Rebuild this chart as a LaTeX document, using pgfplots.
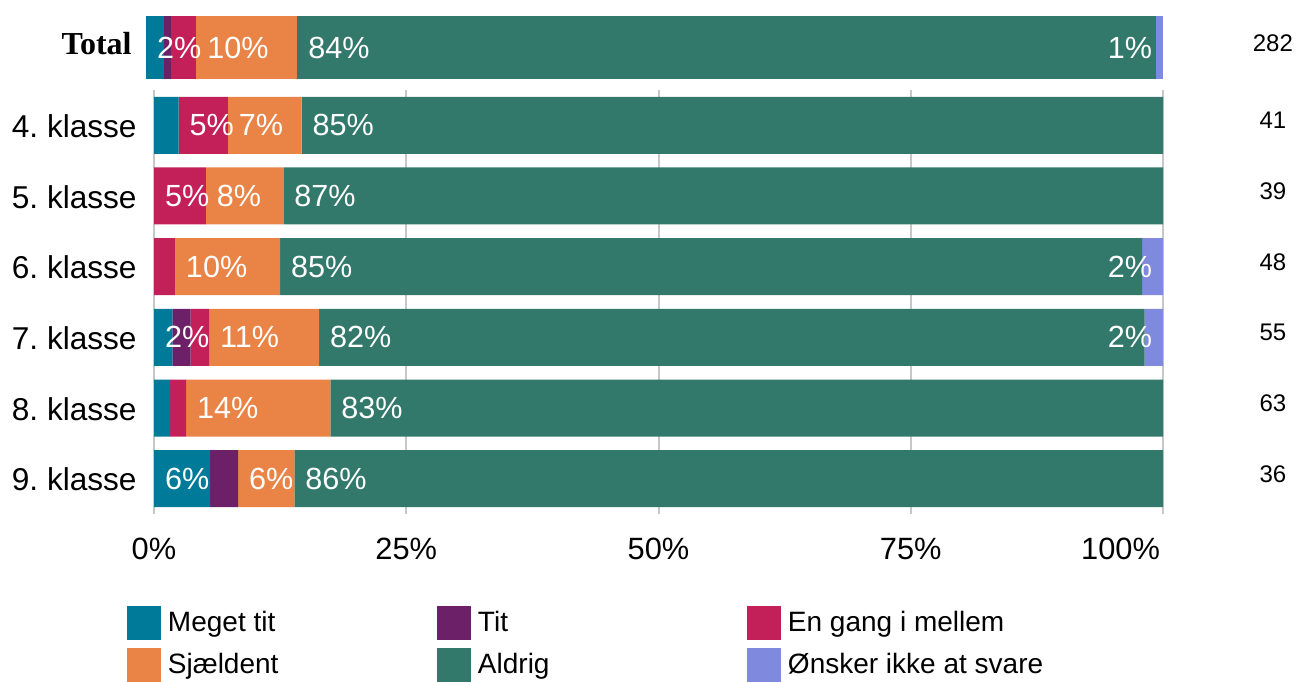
\documentclass[border=0pt]{standalone}
\usepackage{pgfplots}
\pgfplotsset{compat=1.18}
\usepackage{fontspec}
\setmainfont{Liberation Sans}
\newfontfamily\serifbf{Liberation Serif}
\frenchspacing
\definecolor{cM}{HTML}{007A99}
\definecolor{cT}{HTML}{6B2068}
\definecolor{cE}{HTML}{C31F59}
\definecolor{cS}{HTML}{EA8446}
\definecolor{cA}{HTML}{32796C}
\definecolor{cO}{HTML}{7F8ADF}
\tikzset{lbl/.style={text=white, font=\fontsize{15.3}{18}\selectfont, inner sep=0pt},
  lw/.style={lbl, anchor=west, xshift=5.3pt},
  le/.style={lbl, anchor=east, xshift=-5.3pt},
  nn/.style={font=\fontsize{12}{14}\selectfont, inner sep=0pt, yshift=2.3pt}}
\pgfplotsset{every axis plot/.append style={on layer=pre main}}
\begin{document}
\begin{tikzpicture}
% Total axis
\begin{axis}[set layers, at={(73pt,301pt)}, anchor=south west, scale only axis,
  width=508.5pt, height=31.5pt, xmin=0, xmax=100, ymin=-0.5, ymax=0.5,
  xbar stacked, bar width=31.5pt, ytick={0},
  yticklabels={{\serifbf\bfseries Total}},
  yticklabel style={font=\fontsize{16}{19}\selectfont, inner sep=0pt, xshift=-7pt, yshift=2pt},
  xtick=\empty, axis line style={draw=none}, major tick length=0pt, clip=false]
\addplot[fill=cM, draw=none] coordinates {(1.77,0)};
\addplot[fill=cT, draw=none] coordinates {(0.71,0)};
\addplot[fill=cE, draw=none] coordinates {(2.48,0)};
\addplot[fill=cS, draw=none] coordinates {(9.93,0)};
\addplot[fill=cA, draw=none] coordinates {(84.40,0)};
\addplot[fill=cO, draw=none] coordinates {(0.71,0)};
\node[lw] at (axis cs:0,0) {2\%};
\node[lw] at (axis cs:4.96,0) {10\%};
\node[lw] at (axis cs:14.89,0) {84\%};
\node[le] at (axis cs:100,0) {1\%};
\node[nn] at (axis cs:110.8,0) {282};
\end{axis}
% Main axis
\begin{axis}[set layers, at={(77pt,83.5pt)}, anchor=south west, scale only axis,
  width=504.5pt, height=212pt, xmin=0, xmax=100, ymin=-0.5, ymax=5.5,
  y dir=reverse, xbar stacked, bar width=28.5pt,
  ytick={0,1,2,3,4,5},
  yticklabels={4. klasse,5. klasse,6. klasse,7. klasse,8. klasse,9. klasse},
  yticklabel style={font=\fontsize{15.8}{19}\selectfont, inner sep=0pt, xshift=-8.5pt, yshift=-0.5pt},
  xtick={0,25,50,75,100},
  xticklabels={0\%,25\%,50\%,75\%,\makebox[0pt][r]{100\%\hspace{1.5pt}}},
  xticklabel style={font=\fontsize{15.4}{18}\selectfont, inner sep=0pt, yshift=-12pt},
  xmajorgrids, major grid style={draw=black!22, line width=1pt},
  axis line style={draw=none}, major tick length=0pt, clip=false,
  legend image code/.code={\fill[#1] (0pt,-8.5pt) rectangle (17pt,8.5pt);},
  legend columns=3,
  legend style={at={(-0.02676,-0.21698)}, anchor=north west, draw=none, fill=none,
    inner sep=0pt, outer sep=0pt, row sep=3.75pt, column sep=0pt,
    font=\fontsize{14}{17}\selectfont, nodes={inner sep=0pt},
    /tikz/every odd column/.append style={column sep=3.5pt}},
  legend cell align=left]
\addplot[fill=cM, draw=none] coordinates {(2.44,0) (0,1) (0,2) (1.82,3) (1.59,4) (5.56,5)};
\addplot[fill=cT, draw=none] coordinates {(0,0) (0,1) (0,2) (1.82,3) (0,4) (2.78,5)};
\addplot[fill=cE, draw=none] coordinates {(4.88,0) (5.13,1) (2.08,2) (1.82,3) (1.59,4) (0,5)};
\addplot[fill=cS, draw=none] coordinates {(7.32,0) (7.69,1) (10.42,2) (10.91,3) (14.29,4) (5.56,5)};
\addplot[fill=cA, draw=none] coordinates {(85.36,0) (87.18,1) (85.42,2) (81.81,3) (82.53,4) (86.10,5)};
\addplot[fill=cO, draw=none] coordinates {(0,0) (0,1) (2.08,2) (1.82,3) (0,4) (0,5)};
\addlegendentry{\makebox[134.5pt][l]{Meget tit}}
\addlegendentry{\makebox[134.5pt][l]{Tit}}
\addlegendentry{\makebox[134.5pt][l]{En gang i mellem}}
\addlegendentry{\makebox[134.5pt][l]{Sjældent}}
\addlegendentry{\makebox[134.5pt][l]{Aldrig}}
\addlegendentry{\makebox[134.5pt][l]{Ønsker ikke at svare}}
% 4. klasse
\node[lw] at (axis cs:2.44,0) {5\%};
\node[lw] at (axis cs:7.32,0) {7\%};
\node[lw] at (axis cs:14.64,0) {85\%};
% 5. klasse
\node[lw] at (axis cs:0,1) {5\%};
\node[lw] at (axis cs:5.13,1) {8\%};
\node[lw] at (axis cs:12.82,1) {87\%};
% 6. klasse
\node[lw] at (axis cs:2.08,2) {10\%};
\node[lw] at (axis cs:12.50,2) {85\%};
\node[le] at (axis cs:100,2) {2\%};
% 7. klasse
\node[lw] at (axis cs:0,3) {2\%};
\node[lw] at (axis cs:5.46,3) {11\%};
\node[lw] at (axis cs:16.37,3) {82\%};
\node[le] at (axis cs:100,3) {2\%};
% 8. klasse
\node[lw] at (axis cs:3.18,4) {14\%};
\node[lw] at (axis cs:17.47,4) {83\%};
% 9. klasse
\node[lw] at (axis cs:0,5) {6\%};
\node[lw] at (axis cs:8.34,5) {6\%};
\node[lw] at (axis cs:13.90,5) {86\%};
% counts
\node[nn] at (axis cs:110.9,0) {41};
\node[nn] at (axis cs:110.9,1) {39};
\node[nn] at (axis cs:110.9,2) {48};
\node[nn] at (axis cs:110.9,3) {55};
\node[nn] at (axis cs:110.9,4) {63};
\node[nn] at (axis cs:110.9,5) {36};
\end{axis}
\pgfresetboundingbox
\path[use as bounding box] (0,0) rectangle (648pt,340.5pt);
\end{tikzpicture}
\end{document}
